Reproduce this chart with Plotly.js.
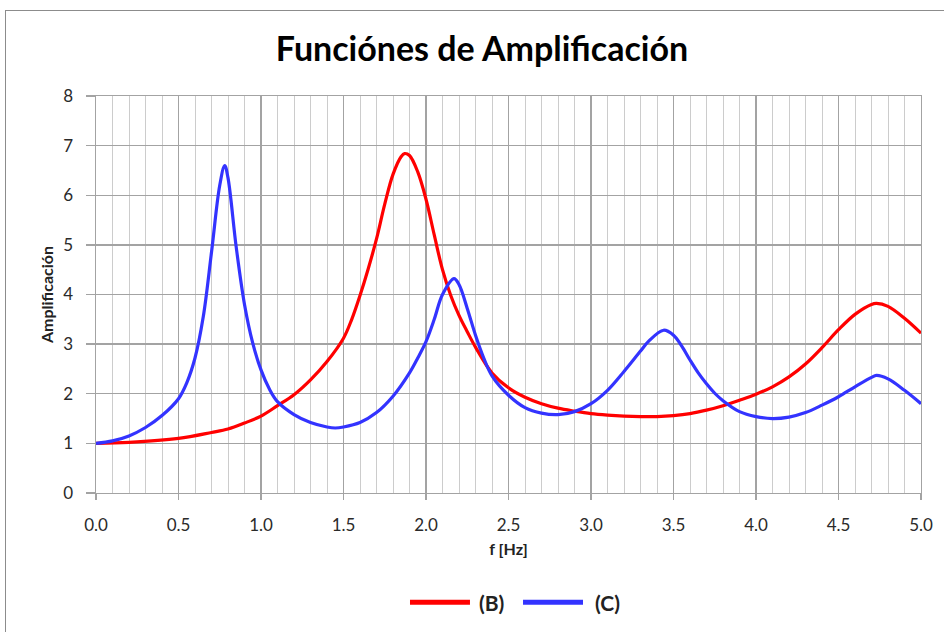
<!DOCTYPE html>
<html><head><meta charset="utf-8">
<script src="https://cdn.plot.ly/plotly-3.0.1.min.js"></script>
<style>
html,body{margin:0;padding:0;background:#fff;overflow:hidden}
#frame{position:absolute;left:5px;top:10px;width:1200px;height:900px;border-left:1px solid #8c8c8c;border-top:1px solid #8c8c8c}
#chart{position:absolute;left:0;top:0;width:944px;height:632px}
</style>
</head><body><div id="frame"></div><div id="chart"></div>
<script>
const seriesNames = ['(B)', '(C)'];
const seriesColors = ['rgb(255,0,0)', 'rgb(51,51,255)'];

const fB = [0, 0.2, 0.5, 0.7, 0.8, 0.9, 1.0, 1.1, 1.2, 1.3, 1.4, 1.5, 1.55, 1.6, 1.65, 1.7, 1.75, 1.8, 1.85, 1.87, 1.9, 1.95, 2.0, 2.05, 2.1, 2.15, 2.2, 2.25, 2.3, 2.4, 2.5, 2.6, 2.7, 2.8, 2.9, 3.0, 3.1, 3.2, 3.3, 3.4, 3.5, 3.6, 3.7, 3.8, 3.9, 4.0, 4.1, 4.2, 4.3, 4.4, 4.5, 4.6, 4.7, 4.73, 4.8, 4.9, 5.0];
const ampB = [1.0, 1.02, 1.1, 1.22, 1.29, 1.41, 1.55, 1.76, 1.98, 2.28, 2.65, 3.12, 3.5, 3.98, 4.52, 5.12, 5.82, 6.42, 6.78, 6.84, 6.8, 6.47, 5.92, 5.2, 4.5, 3.98, 3.58, 3.25, 2.94, 2.42, 2.12, 1.93, 1.8, 1.71, 1.65, 1.6, 1.57, 1.55, 1.54, 1.54, 1.56, 1.6, 1.67, 1.76, 1.87, 1.99, 2.14, 2.34, 2.6, 2.93, 3.29, 3.6, 3.8, 3.82, 3.76, 3.52, 3.22];

const fC = [0, 0.1, 0.2, 0.3, 0.4, 0.5, 0.55, 0.6, 0.65, 0.7, 0.75, 0.78, 0.8, 0.85, 0.9, 0.95, 1.0, 1.05, 1.1, 1.2, 1.3, 1.4, 1.45, 1.5, 1.6, 1.7, 1.8, 1.9, 1.95, 2.0, 2.05, 2.1, 2.17, 2.2, 2.25, 2.3, 2.35, 2.4, 2.5, 2.6, 2.7, 2.8, 2.9, 3.0, 3.1, 3.2, 3.3, 3.35, 3.44, 3.5, 3.55, 3.6, 3.65, 3.7, 3.75, 3.8, 3.9, 4.0, 4.1, 4.2, 4.3, 4.4, 4.5, 4.6, 4.7, 4.73, 4.8, 4.9, 5.0];
const ampC = [1.0, 1.05, 1.15, 1.32, 1.56, 1.9, 2.22, 2.72, 3.55, 4.85, 6.2, 6.6, 6.35, 4.95, 3.8, 3.02, 2.48, 2.1, 1.84, 1.58, 1.42, 1.33, 1.31, 1.33, 1.42, 1.62, 1.95, 2.42, 2.72, 3.05, 3.5, 4.0, 4.32, 4.2, 3.72, 3.18, 2.72, 2.36, 1.97, 1.72, 1.61, 1.58, 1.64, 1.8, 2.07, 2.45, 2.86, 3.06, 3.28, 3.18, 2.96, 2.68, 2.42, 2.2, 2.01, 1.86, 1.64, 1.54, 1.5, 1.53, 1.62, 1.77, 1.94, 2.14, 2.33, 2.37, 2.3, 2.07, 1.8];

const xTickVals = [0, 0.5, 1, 1.5, 2, 2.5, 3, 3.5, 4, 4.5, 5];
const xTickText = ['0.0', '0.5', '1.0', '1.5', '2.0', '2.5', '3.0', '3.5', '4.0', '4.5', '5.0'];
const yTickVals = [0, 1, 2, 3, 4, 5, 6, 7, 8];

const FONT = 'Lato, "Open Sans", sans-serif';
const traces = [
  {x: fB, y: ampB, name: seriesNames[0], mode: 'lines', line: {color: seriesColors[0], width: 3.2, shape: 'spline', smoothing: 1}},
  {x: fC, y: ampC, name: seriesNames[1], mode: 'lines', line: {color: seriesColors[1], width: 3.2, shape: 'spline', smoothing: 1}}
];

// custom legend (long line samples like the reference)
const legY = -0.2755;
const legSpec = [{x0: 0.3806, x1: 0.4533, tx: 0.4618}, {x0: 0.5176, x1: 0.5903, tx: 0.6024}];
const shapes = legSpec.map((s, i) => ({type: 'line', xref: 'paper', yref: 'paper', x0: s.x0, x1: s.x1, y0: legY, y1: legY, line: {color: seriesColors[i], width: 5}}));
const annotations = legSpec.map((s, i) => ({xref: 'paper', yref: 'paper', x: s.tx, y: legY, xanchor: 'left', yanchor: 'middle', showarrow: false, text: '<b>' + seriesNames[i] + '</b>', font: {family: FONT, size: 21, color: '#222'}}));

const layout = {
  width: 944, height: 632,
  margin: {l: 96, r: 23, t: 96, b: 138.5},
  paper_bgcolor: 'rgba(0,0,0,0)', plot_bgcolor: '#fff',
  showlegend: false,
  title: {text: '<b>Funciónes de Amplificación</b>', font: {family: FONT, size: 34, color: '#000'}, x: 0.5106, xref: 'container', xanchor: 'center', y: 0.922, yref: 'container', yanchor: 'middle'},
  xaxis: {
    range: [0, 5], tickvals: xTickVals, ticktext: xTickText,
    showgrid: true, gridcolor: '#a3a3a3', gridwidth: 1.4,
    minor: {dtick: 0.1, showgrid: true, gridcolor: '#cccccc', gridwidth: 1, ticks: ''},
    showline: true, linecolor: '#a3a3a3', linewidth: 1.4, mirror: true,
    ticks: 'outside', ticklen: 6, tickcolor: '#a3a3a3', tickwidth: 1.4,
    ticklabelstandoff: 10,
    zeroline: false,
    tickfont: {family: FONT, size: 17, color: '#2a2a2a'},
    title: {text: '<b>f [Hz]</b>', font: {family: FONT, size: 16, color: '#222'}, standoff: 10}
  },
  yaxis: {
    range: [0, 8], tickvals: yTickVals,
    showgrid: true, gridcolor: '#a3a3a3', gridwidth: 1.4,
    showline: true, linecolor: '#a3a3a3', linewidth: 1.4, mirror: true,
    ticks: 'outside', ticklen: 9, tickcolor: '#a3a3a3', tickwidth: 1.4,
    ticklabelstandoff: 9,
    zeroline: false,
    tickfont: {family: FONT, size: 17, color: '#2a2a2a'},
    title: {text: '<b>Amplificación</b>', font: {family: FONT, size: 16, color: '#222'}, standoff: 5}
  },
  shapes: shapes,
  annotations: annotations
};

Plotly.newPlot('chart', traces, layout, {displayModeBar: false, staticPlot: true});
</script></body></html>
